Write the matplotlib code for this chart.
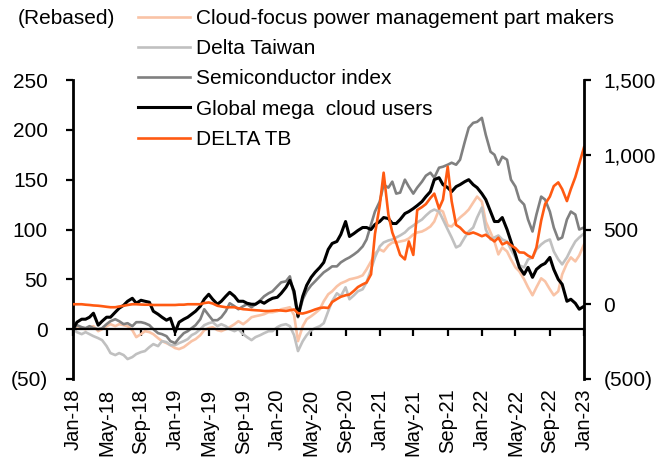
import matplotlib
matplotlib.use('Agg')
import matplotlib.pyplot as plt
import matplotlib.dates as mdates
from matplotlib.ticker import FuncFormatter
import pandas as pd

plt.rcParams['font.family'] = ['Liberation Sans', 'DejaVu Sans']
plt.rcParams['font.size'] = 15

# semi-monthly points, Jan-18 .. Jan-23
dates = pd.date_range('2018-01-01', '2023-01-01', freq='SMS')

# left axis (rebased)
cloud_power = [
    0, 1, 1, 0, 2, 3, -2, 0, 3, 5,
    3, 5, 4, 3, -1, -8, -5, -2, -3, -5,
    -9, -12, -14, -16, -19, -20, -18, -15, -12, -10,
    -6, -1, 1, 2, -1, -2, 0, 2, 5, 8,
    5, 8, 12, 13, 14, 15, 17, 17, 18, 20,
    21, 22, 14, -12, 3, 10, 13, 16, 20, 28,
    35, 38, 43, 46, 48, 50, 51, 52, 54, 60,
    68, 76, 80, 78, 84, 87, 87, 88, 89, 91,
    95, 97, 98, 100, 103, 108, 120, 118, 104, 103,
    108, 112, 116, 120, 127, 133, 128, 108, 97, 88,
    75, 82, 78, 70, 62, 58, 50, 42, 34, 42,
    51, 48, 40, 34, 38, 55, 66, 72, 68, 74,
    85]
delta_tw = [
    0, -3, -5, -3, -5, -7, -9, -11, -17, -24,
    -26, -24, -26, -30, -28, -25, -23, -22, -18, -15,
    -17, -12, -13, -16, -16, -14, -12, -10, -6, -4,
    0, 4, 6, 7, 3, 5, 3, 0, -2, 0,
    -5, -8, -11, -8, -6, -4, -2, -2, 2, 4,
    5, 3, -6, -22, -12, -6, -1, 1, 3, 6,
    18, 28, 36, 33, 42, 30, 34, 38, 40, 47,
    60, 72, 83, 87, 89, 90, 92, 94, 97, 101,
    104, 107, 110, 114, 118, 120, 118, 110, 100, 92,
    82, 84, 92, 98, 102, 112, 122, 100, 90, 92,
    94, 90, 88, 80, 72, 64, 62, 70, 72, 80,
    85, 88, 90, 78, 70, 65, 72, 80, 88, 92,
    96]
semi_idx = [
    0, 4, 2, 1, 3, 1, 0, 1, 5, 8,
    10, 8, 5, 6, 3, 7, 7, 6, 4, 0,
    -4, -5, -7, -12, -14, -9, -4, -2, 1, 4,
    10, 20, 14, 9, 9, 12, 18, 26, 23, 20,
    23, 25, 22, 25, 29, 33, 36, 38, 43, 47,
    48, 53, 34, 12, 30, 38, 44, 48, 53, 57,
    60, 63, 63, 67, 70, 72, 75, 78, 83, 90,
    105, 118, 128, 145, 142, 148, 136, 137, 150, 143,
    136, 142, 148, 154, 157, 152, 162, 163, 165, 167,
    165, 170, 188, 202, 207, 208, 212, 195, 178, 175,
    165, 173, 170, 150, 143, 130, 125, 110, 98, 115,
    133, 130, 118, 102, 90, 92, 110, 118, 115, 100,
    102]
mega_cloud = [
    0, 7, 10, 10, 12, 16, 4, 8, 12, 12,
    17, 21, 24, 28, 31, 26, 29, 28, 27, 18,
    15, 12, 9, 11, -3, 7, 10, 12, 15, 18,
    23, 30, 35, 30, 25, 28, 33, 37, 33, 28,
    28, 26, 25, 25, 28, 26, 29, 31, 32, 36,
    42, 49, 38, 13, 33, 44, 52, 57, 62, 67,
    80, 86, 88, 95, 108, 93, 96, 99, 102, 102,
    100, 105, 108, 112, 111, 106, 106, 110, 116, 118,
    121, 124, 128, 133, 138, 150, 152, 145, 142, 138,
    143, 145, 148, 150, 145, 142, 136, 130, 118, 108,
    108, 112, 100, 88, 75, 62, 55, 62, 52, 60,
    64, 66, 72, 60, 50, 45, 28, 30, 26, 20,
    23]
# right axis
delta_tb = [
    0, 0, 0, -3, -5, -8, -10, -13, -17, -20,
    -20, -15, -10, -5, 0, 0, -2, -3, -3, -5,
    -5, -5, -5, -5, -5, -3, -3, 0, 0, 0,
    0, 8, 12, 5, -10, -15, -20, -20, -20, -27,
    -33, -35, -38, -40, -42, -45, -45, -43, -40, -42,
    -45, -40, -35, -60, -62, -55, -45, -35, -25, -22,
    -25, 15, 35, 50, 60, 65, 90, 115, 133, 145,
    200, 470, 660, 880, 600, 480, 410, 330, 300, 420,
    330, 630, 650, 670, 710, 740, 640, 700, 920, 690,
    530, 513, 480, 470, 480, 470, 455, 465, 440, 420,
    445, 400, 415, 395, 375, 347, 345, 325, 310, 380,
    560, 670, 720, 790, 815, 770, 690, 770, 850, 940,
    1050]

labels = ['Cloud-focus power management part makers', 'Delta Taiwan',
          'Semiconductor index', 'Global mega  cloud users', 'DELTA TB']
colors = ['#F9C3A6', '#C0C0C0', '#808080', '#000000', '#FF5A12']

tick_dates = pd.date_range('2018-01-01', '2023-01-01', freq='4MS')
tick_labels = [d.strftime('%b-%y') for d in tick_dates]


def paren(v, p):
    v = int(round(v))
    return '({:,})'.format(-v) if v < 0 else '{:,}'.format(v)


fig = plt.figure(figsize=(6.59, 4.62), dpi=100)
ax = fig.add_axes([73 / 659, 1 - 379 / 462, (584 - 73) / 659, (379 - 80) / 462])
ax2 = ax.twinx()

for ys, lab, c in zip([cloud_power, delta_tw, semi_idx, mega_cloud], labels[:4], colors[:4]):
    ax.plot(dates, ys, color=c, lw=2.2 if c == '#000000' else 1.9, label=lab)
ax2.plot(dates, delta_tb, color=colors[4], lw=1.9, label=labels[4])

ax.set_xlim(dates[0], dates[-1])
ax.set_ylim(-50, 250)
ax.set_yticks(range(-50, 251, 50))
ax.yaxis.set_major_formatter(FuncFormatter(paren))
ax2.set_ylim(-500, 1500)
ax2.set_yticks(range(-500, 1501, 500))
ax2.yaxis.set_major_formatter(FuncFormatter(paren))

for s in ['top', 'right']:
    ax.spines[s].set_visible(False)
for s in ['top', 'bottom', 'left']:
    ax2.spines[s].set_visible(False)
ax.spines['left'].set_linewidth(2)
ax2.spines['right'].set_linewidth(2)
ax.spines['bottom'].set_position(('data', 0))
ax.spines['bottom'].set_linewidth(1.6)

ax.set_xticks(mdates.date2num(tick_dates))
ax.tick_params(axis='x', direction='out', length=5, width=1.6, labelbottom=False)
ax.tick_params(axis='y', direction='out', length=5, width=1.6, pad=13)
ax2.tick_params(axis='y', direction='out', length=5, width=1.6, pad=9)

sec = ax.secondary_xaxis('bottom')
sec.set_xticks(mdates.date2num(tick_dates), tick_labels, rotation=90, fontsize=14.5)
sec.tick_params(length=0, pad=7)
sec.spines['bottom'].set_visible(False)

h1, l1 = ax.get_legend_handles_labels()
h2, l2 = ax2.get_legend_handles_labels()
fig.legend(h1 + h2, l1 + l2, loc='upper left', bbox_to_anchor=(138 / 659, 1 - 9 / 462),
           frameon=False, handlelength=2.5, handletextpad=0.3, labelspacing=0.54,
           borderpad=0, borderaxespad=0)
fig.text(18 / 659, 1 - 18 / 462, '(Rebased)', va='center', ha='left')

fig.savefig('out.png', dpi=100)
